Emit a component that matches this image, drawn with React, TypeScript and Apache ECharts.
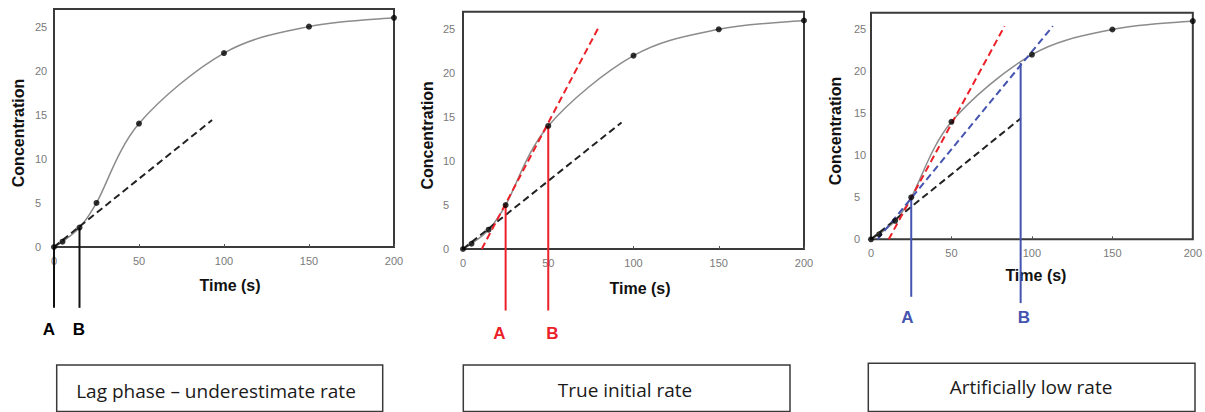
import React, { useEffect, useRef } from "react";
import * as echarts from "echarts";

// ---- data ----
const TIME = [0, 5, 15, 25, 50, 100, 150, 200];
const CONC = [0, 0.6, 2.2, 5, 14, 22, 25, 26];

// tangent (dashed) lines: [x0, x1], [y0, y1]
const LAG_X = [0, 93];
const LAG_Y = [0, 14.4];
const TRUE_X_P2 = [11, 80];
const TRUE_Y_P2 = [0, 25.4];
const TRUE_X_P3 = [11, 83];
const TRUE_Y_P3 = [0, 25.4];
const LOW_X = [4, 113];
const LOW_Y = [0, 25.4];

// vertical markers A/B: time, top value, bottom value (below the axis)
const P1_MARK_X = [0, 15];
const P1_MARK_TOP = [0, 2.2];
const P1_MARK_BOTTOM = [-6.9, -6.9];
const P2_MARK_X = [25, 50];
const P2_MARK_TOP = [5, 14];
const P2_MARK_BOTTOM = [-7.0, -7.0];
const P3_MARK_X = [25, 93];
const P3_MARK_TOP = [5, 21];
const P3_MARK_BOTTOM = [-6.85, -7.6];

const MARK_LABELS = ["A", "B"];
const CAPTIONS = ["Lag phase – underestimate rate", "True initial rate", "Artificially low rate"];
const X_TITLE = "Time (s)";
const Y_TITLE = "Concentration";

const RED = "#ec2028";
const BLUE = "#4554b0";
const BLACK = "#111";

const GRIDS = [
  { left: 54, top: 9, width: 340, height: 238 },
  { left: 463, top: 11.7, width: 341, height: 237.3 },
  { left: 871, top: 12.7, width: 326, height: 226.6 },
];
const YLABEL_MARGIN = [19, 20, 17];
const XNAME_GAP = [30, 31, 28];
const XNAME_SHIFT = [12, 13, 8];

const MARK_LABEL_POS = [
  [[49, 329], [79, 329]],
  [[499.5, 333], [552.5, 333]],
  [[907.5, 317], [1024, 317]],
];
const BOXES = [
  { x: 56.7, y: 365, w: 326, cx: 216, cy: 390.5 },
  { x: 463.3, y: 365, w: 326.7, cx: 625, cy: 389.5 },
  { x: 868.3, y: 363.3, w: 326.7, cx: 1031, cy: 386.5 },
];

const pairs = (xs: number[], ys: number[]) => xs.map((x, i) => [x, ys[i]]);

function dashed(idx: number, xs: number[], ys: number[], color: string, z = 4) {
  return {
    type: "line",
    xAxisIndex: idx,
    yAxisIndex: idx,
    data: pairs(xs, ys),
    symbol: "none",
    silent: true,
    z,
    lineStyle: { color, width: 2, type: [7, 4] },
  };
}

function verticals(idx: number, xs: number[], tops: number[], bottoms: number[], color: string) {
  return xs.map((x, i) => ({
    type: "line",
    xAxisIndex: idx,
    yAxisIndex: idx,
    data: [
      [x, tops[i]],
      [x, bottoms[i]],
    ],
    symbol: "none",
    clip: false,
    silent: true,
    z: 5,
    lineStyle: { color, width: 2 },
  }));
}

// Smooth (Catmull-Rom style, spreadsheet-like) curve: each data item draws the
// Bezier segment from point i to point i+1 using the axis coordinates.
function smoothCurve(idx: number) {
  const n = TIME.length;
  return {
    type: "custom",
    xAxisIndex: idx,
    yAxisIndex: idx,
    silent: true,
    z: 3,
    data: TIME.slice(0, n - 1).map((t, i) => [t, CONC[i], i]),
    renderItem: (_params: any, api: any) => {
      const i = api.value(2);
      const P = (k: number) => {
        const kk = Math.max(0, Math.min(n - 1, k));
        return api.coord([TIME[kk], CONC[kk]]);
      };
      const p0 = P(i - 1);
      const p1 = P(i);
      const p2 = P(i + 1);
      const p3 = P(i + 2);
      const c1 = [p1[0] + (p2[0] - p0[0]) / 6, p1[1] + (p2[1] - p0[1]) / 6];
      const c2 = [p2[0] - (p3[0] - p1[0]) / 6, p2[1] - (p3[1] - p1[1]) / 6];
      return {
        type: "path",
        shape: {
          pathData: `M${p1[0]},${p1[1]} C${c1[0]},${c1[1]} ${c2[0]},${c2[1]} ${p2[0]},${p2[1]}`,
        },
        style: { fill: "none", stroke: "#8c8c8c", lineWidth: 1.5 },
      };
    },
  };
}

export default function App() {
  const ref = useRef<HTMLDivElement>(null);

  useEffect(() => {
    if (!ref.current) return;
    const chart = echarts.init(ref.current, null, { renderer: "svg" });

    const grid = GRIDS.map((g) => ({
      ...g,
      show: true,
      borderColor: "#3a3a3a",
      borderWidth: 2,
      backgroundColor: "transparent",
      containLabel: false,
    }));

    const xAxis = GRIDS.map((_, i) => ({
      type: "value",
      gridIndex: i,
      min: 0,
      max: 200,
      interval: 50,
      name: X_TITLE,
      nameLocation: "middle",
      nameGap: XNAME_GAP[i],
      nameTextStyle: {
        fontFamily: "Liberation Sans, Arial, sans-serif",
        fontWeight: "bold",
        fontSize: 16,
        color: "#111",
        padding: [0, 0, 0, XNAME_SHIFT[i]],
      },
      axisLine: { show: false },
      axisTick: { show: true, inside: true, length: 3, lineStyle: { color: "#555" } },
      splitLine: { show: false },
      axisLabel: {
        fontFamily: "Liberation Sans, Arial, sans-serif",
        fontSize: 11,
        color: "#7a7a7a",
        margin: 8,
      },
    }));

    const yAxis = GRIDS.map((_, i) => ({
      type: "value",
      gridIndex: i,
      min: 0,
      max: 27,
      interval: 5,
      name: Y_TITLE,
      nameLocation: "middle",
      nameGap: 28,
      nameRotate: 90,
      nameTextStyle: {
        fontFamily: "Liberation Sans, Arial, sans-serif",
        fontWeight: "bold",
        fontSize: 16,
        color: "#111",
        padding: [0, 10, 0, 0],
      },
      axisLine: { show: false },
      axisTick: { show: false },
      splitLine: { show: false },
      axisLabel: {
        fontFamily: "Liberation Sans, Arial, sans-serif",
        fontSize: 11,
        color: "#7a7a7a",
        margin: YLABEL_MARGIN[i],
        align: "left",
        showMaxLabel: false,
        formatter: (v: number) => (v % 5 === 0 ? String(v) : ""),
      },
    }));

    const series: any[] = [];
    GRIDS.forEach((_, i) => {
      series.push(smoothCurve(i));
      series.push({
        type: "scatter",
        xAxisIndex: i,
        yAxisIndex: i,
        data: pairs(TIME, CONC),
        symbol: "circle",
        symbolSize: 6,
        itemStyle: { color: "#000" },
        z: 6,
        silent: true,
      });
      series.push(dashed(i, LAG_X, LAG_Y, "#222"));
    });
    series.push(dashed(1, TRUE_X_P2, TRUE_Y_P2, RED));
    series.push(dashed(2, TRUE_X_P3, TRUE_Y_P3, RED));
    series.push(dashed(2, LOW_X, LOW_Y, BLUE));
    series.push(...verticals(0, P1_MARK_X, P1_MARK_TOP, P1_MARK_BOTTOM, BLACK));
    series.push(...verticals(1, P2_MARK_X, P2_MARK_TOP, P2_MARK_BOTTOM, RED));
    series.push(...verticals(2, P3_MARK_X, P3_MARK_TOP, P3_MARK_BOTTOM, BLUE));

    const markColors = ["#000", RED, BLUE];
    const graphic: any[] = [];
    MARK_LABEL_POS.forEach((pp, i) => {
      pp.forEach((p, k) => {
        graphic.push({
          type: "text",
          x: p[0],
          y: p[1],
          style: {
            text: MARK_LABELS[k],
            fill: markColors[i],
            font: "bold 17px 'Liberation Sans', Arial, sans-serif",
            textAlign: "center",
            textVerticalAlign: "middle",
          },
        });
      });
    });
    BOXES.forEach((b, i) => {
      graphic.push({
        type: "rect",
        shape: { x: b.x, y: b.y, width: b.w, height: 411.5 - b.y },
        style: { fill: "#fff", stroke: "#3a3a3a", lineWidth: 1.5 },
      });
      graphic.push({
        type: "text",
        x: b.cx,
        y: b.cy,
        style: {
          text: CAPTIONS[i],
          fill: "#1a1a1a",
          font: "19px 'Open Sans', Lato, sans-serif",
          textAlign: "center",
          textVerticalAlign: "middle",
        },
      });
    });

    chart.setOption({
      animation: false,
      backgroundColor: "#fff",
      grid,
      xAxis,
      yAxis,
      series,
      graphic,
    });

    return () => chart.dispose();
  }, []);

  return (
    <div
      ref={ref}
      style={{ position: "fixed", left: 0, top: 0, width: 1205, height: 412 }}
    />
  );
}
